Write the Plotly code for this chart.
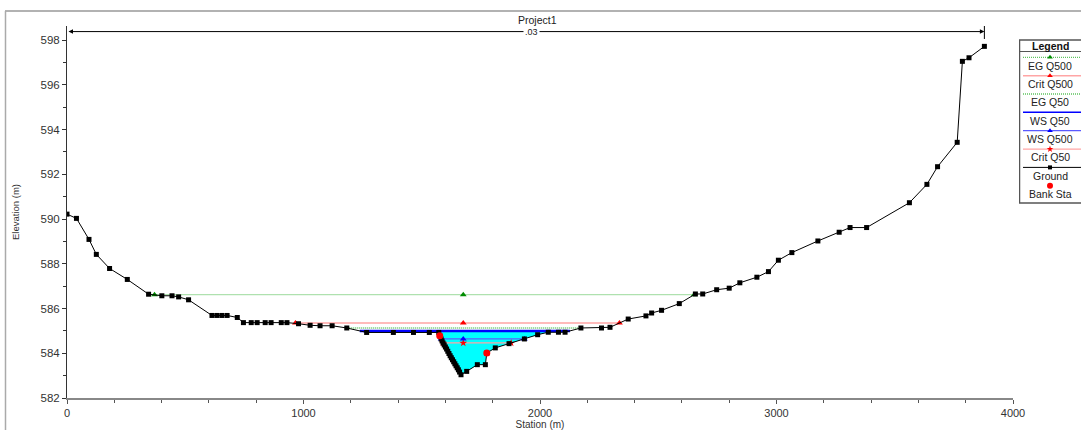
import plotly.graph_objects as go

# ---------------- data ----------------
ground_station = [0, 40, 93, 124, 180, 255, 345, 401, 444, 472, 514, 613, 634, 655, 677,
                  720, 746, 779, 804, 838, 863, 906, 930, 979, 1028, 1070, 1121, 1183,
                  1267, 1380, 1465, 1532, 1572, 1576, 1582, 1586, 1590, 1595, 1600, 1605,
                  1610, 1615, 1620, 1625, 1630, 1635, 1640, 1645, 1650, 1655, 1660, 1666,
                  1690, 1735, 1769, 1775, 1811, 1869, 1934, 1990, 2035, 2078, 2106, 2173,
                  2260, 2296, 2373, 2448, 2472, 2514, 2589, 2657, 2688, 2747, 2800, 2845,
                  2917, 2966, 3008, 3065, 3175, 3265, 3311, 3381, 3562, 3636, 3681, 3764,
                  3786, 3814, 3879]
ground_elev = [590.22, 590.03, 589.09, 588.42, 587.79, 587.30, 586.64, 586.57, 586.57, 586.52,
               586.39, 585.69, 585.69, 585.69, 585.69, 585.60, 585.37, 585.37, 585.37, 585.37,
               585.37, 585.37, 585.37, 585.32, 585.25, 585.23, 585.23, 585.13,
               584.93, 584.93, 584.93, 584.93, 584.93, 584.78, 584.64, 584.55, 584.46, 584.37,
               584.28, 584.19, 584.09, 583.99, 583.89, 583.80, 583.71, 583.62, 583.53, 583.44,
               583.35, 583.26, 583.16, 583.04,
               583.19, 583.49, 583.49, 584.01, 584.24, 584.43, 584.64, 584.83, 584.94, 584.94,
               584.94, 585.13, 585.13, 585.16, 585.53, 585.67, 585.80, 585.92, 586.22, 586.65,
               586.65, 586.84, 586.91, 587.15, 587.40, 587.65, 588.16, 588.50, 589.02, 589.41,
               589.62, 589.62, 590.73, 591.55, 592.34, 593.43, 597.05, 597.21, 597.72]

bank_station = [1576, 1775]
bank_elev = [584.78, 584.01]

profile_names = ["EG Q500", "Crit Q500", "EG Q50", "WS Q50", "WS Q500", "Crit Q50"]
profile_elev = [586.62, 585.35, 585.13, 585.00, 584.64, 584.46]
profile_left = [370, 966, 1183, 1238, 1582, 1590]
profile_right = [2652, 2336, 2173, 2127, 1934, 1878]
filled_profile = "WS Q50"

legend_labels = ["EG Q500", "Crit Q500", "EG Q50", "WS Q50", "WS Q500", "Crit Q50",
                 "Ground", "Bank Sta"]

reach_n_label = ".03"
reach_n_stations = [0, 3879]
reach_n_elev = 598.38
title_text = "Project1"
x_title = "Station (m)"
y_title = "Elevation (m)"

# ---------------- styling ----------------
FONT = "Liberation Sans, Arial, sans-serif"
W, H = 1081, 430
L, R, T, B = 67, 0, 26, 32


def pxx(xp):
    return (xp - L) / (W - L - R)


def pxy(yp):
    return (H - B - yp) / (H - T - B)


styles = {
    "EG Q500": dict(color="rgb(95,195,95)", dash="1px,1px", width=1.3, symbol="triangle-up",
                    mcolor="rgb(0,140,0)", msize=6),
    "Crit Q500": dict(color="rgb(255,165,165)", dash="solid", width=1.6, symbol="triangle-up",
                      mcolor="rgb(255,0,0)", msize=6),
    "EG Q50": dict(color="rgb(95,195,95)", dash="1px,1px", width=1.3, symbol=None),
    "WS Q50": dict(color="rgb(0,0,255)", dash="solid", width=2.5, symbol=None),
    "WS Q500": dict(color="rgb(90,90,255)", dash="solid", width=1.3, symbol="triangle-up",
                    mcolor="rgb(0,0,255)", msize=6),
    "Crit Q50": dict(color="rgb(255,165,165)", dash="solid", width=1.3, symbol="star",
                     mcolor="rgb(255,0,0)", msize=6),
    "Ground": dict(color="black", dash="solid", width=1, symbol="square", mcolor="black", msize=5),
    "Bank Sta": dict(color=None, symbol="circle", mcolor="rgb(255,0,0)", msize=7),
}

fig = go.Figure()

# water fill under the filled profile
i = profile_names.index(filled_profile)
wl, wr, we = profile_left[i], profile_right[i], profile_elev[i]
fx = [wl] + [s for s in ground_station if wl < s < wr] + [wr]
fy = [we] + [e for s, e in zip(ground_station, ground_elev) if wl < s < wr] + [we]
fig.add_trace(go.Scatter(x=fx, y=fy, fill="toself", fillcolor="rgb(0,255,255)",
                         line=dict(width=0), mode="lines", hoverinfo="skip", showlegend=False))

center = (bank_station[0] + bank_station[1]) / 2

# profiles
for name, e, l, r in reversed(list(zip(profile_names, profile_elev, profile_left, profile_right))):
    st = styles[name]
    fig.add_trace(go.Scatter(x=[l, r], y=[e, e], mode="lines",
                             line=dict(color=st["color"], dash=st["dash"], width=st["width"]),
                             showlegend=False, name=name))
    if st["symbol"]:
        fig.add_trace(go.Scatter(x=[l, center, r], y=[e, e, e], mode="markers",
                                 marker=dict(symbol=st["symbol"], color=st["mcolor"], size=st["msize"]),
                                 showlegend=False, name=name))

# ground
gs = styles["Ground"]
fig.add_trace(go.Scatter(x=ground_station, y=ground_elev, mode="lines+markers",
                         line=dict(color="black", width=1),
                         marker=dict(symbol="square", color="black", size=gs["msize"]),
                         showlegend=False, name="Ground"))
# bank stations
bs = styles["Bank Sta"]
fig.add_trace(go.Scatter(x=bank_station, y=bank_elev, mode="markers",
                         marker=dict(symbol="circle", color=bs["mcolor"], size=bs["msize"]),
                         showlegend=False, name="Bank Sta"))

# ---------------- custom legend (pixel-frame axes x2/y2) ----------------
leg_x0, leg_x1 = 1019, 1086
line_y0 = 57.3
step = 18.35
for k, name in enumerate(legend_labels):
    ly = line_y0 + k * step
    st = styles[name]
    if st.get("color"):
        fig.add_trace(go.Scatter(x=[1023, 1081], y=[ly, ly], mode="lines", xaxis="x2", yaxis="y2",
                                 line=dict(color=st["color"], dash=st["dash"], width=min(st["width"], 1.5)),
                                 showlegend=False, hoverinfo="skip"))
    if st.get("symbol"):
        fig.add_trace(go.Scatter(x=[1050], y=[ly], mode="markers", xaxis="x2", yaxis="y2",
                                 marker=dict(symbol=st["symbol"], color=st["mcolor"],
                                             size=st["msize"] - 1),
                                 showlegend=False, hoverinfo="skip"))
    fig.add_annotation(x=1050, y=ly + 8.3, xref="x2", yref="y2", text=name, showarrow=False,
                       font=dict(family=FONT, size=10.5, color="#222"))

fig.add_annotation(x=1050, y=45.5, xref="x2", yref="y2", text="<b>Legend</b>", showarrow=False,
                   font=dict(family=FONT, size=10.5, color="#111"))

shapes = [
    dict(type="rect", xref="x2", yref="y2", x0=leg_x0 + 0.5, x1=leg_x1, y0=40, y1=203,
         line=dict(color="#555", width=1.5), layer="below"),
    dict(type="line", xref="x2", yref="y2", x0=leg_x0, x1=leg_x1, y0=51.5, y1=51.5,
         line=dict(color="#555", width=1.2)),
    # outer frame
    dict(type="line", xref="paper", yref="paper", x0=pxx(5), x1=pxx(1085), y0=pxy(11), y1=pxy(11),
         line=dict(color="#999", width=1.5)),
    dict(type="line", xref="paper", yref="paper", x0=pxx(5.5), x1=pxx(5.5), y0=pxy(11), y1=pxy(435),
         line=dict(color="#aaa", width=1.5)),
    # end tick of n-value line
    dict(type="line", xref="x", yref="y", x0=reach_n_stations[1], x1=reach_n_stations[1],
         y0=598.05, y1=598.7, line=dict(color="black", width=1)),
]

# n-value line with arrows
fig.add_annotation(x=reach_n_stations[1], y=reach_n_elev, ax=reach_n_stations[0], ay=reach_n_elev,
                   xref="x", yref="y", axref="x", ayref="y", text="", showarrow=True,
                   arrowhead=2, arrowside="end+start", arrowsize=0.9, arrowwidth=1, arrowcolor="black")
fig.add_annotation(x=1965, y=reach_n_elev, xref="x", yref="y", text=reach_n_label, showarrow=False,
                   bgcolor="white", font=dict(family=FONT, size=9, color="#222"), borderpad=1,
                   yanchor="middle")
fig.add_annotation(x=pxx(537), y=pxy(20.5), xref="paper", yref="paper", text=title_text,
                   showarrow=False, font=dict(family=FONT, size=10.5, color="#222"),
                   xanchor="center", yanchor="middle")

fig.update_layout(
    width=W, height=H,
    margin=dict(l=L, r=R, t=T, b=B),
    paper_bgcolor="white", plot_bgcolor="white",
    font=dict(family=FONT, size=11, color="#333"),
    shapes=shapes,
    xaxis=dict(domain=[0, pxx(1013)], range=[0, 4000], tickvals=[0, 1000, 2000, 3000, 4000],
               ticks="outside", ticklen=4, tickcolor="#555", showline=True, linecolor="#888",
               linewidth=2, showgrid=False, zeroline=False, automargin=False,
               minor=dict(dtick=200, ticks="outside", ticklen=3, tickcolor="#555"),
               tickfont=dict(family=FONT, size=11, color="#333"),
               title=dict(text=x_title, font=dict(family=FONT, size=10, color="#333"), standoff=2)),
    yaxis=dict(range=[582, 598.63], dtick=2, tick0=582, ticks="outside", ticklen=4, tickcolor="#333",
               showline=True, linecolor="#333", linewidth=1, showgrid=False, zeroline=False,
               automargin=False,
               minor=dict(dtick=1, ticks="outside", ticklen=3, tickcolor="#333"),
               tickfont=dict(family=FONT, size=11.5, color="#333"),
               title=dict(text=y_title, font=dict(family=FONT, size=9.5, color="#333"), standoff=19)),
    xaxis2=dict(domain=[pxx(1019), 1], range=[1019, 1081], visible=False, fixedrange=True, anchor="y2"),
    yaxis2=dict(domain=[0, 1], range=[398, 26], visible=False, fixedrange=True, anchor="x2"),
)

fig.write_html("out.html", config={"displayModeBar": False},
               post_script="document.body.style.margin='0';document.body.style.overflow='hidden';")
